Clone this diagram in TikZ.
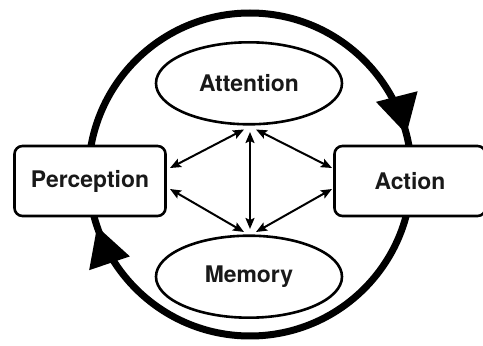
\documentclass[tikz,border=0pt]{standalone}
\usepackage{fontspec}
\setmainfont{TeX Gyre Heros}
\usetikzlibrary{arrows.meta,decorations.markings,shapes.geometric}

\tikzset{
  lbl/.style={font=\bfseries\fontsize{22.9}{27}\selectfont, text=black!90},
  stagebox/.style={lbl, draw, line width=2.6pt, rounded corners=8pt,
    minimum width=151pt, minimum height=70pt, inner sep=0pt},
  faculty/.style={lbl, draw, ellipse, line width=2.6pt,
    minimum width=186pt, minimum height=82pt, inner sep=0pt},
  link/.style={line width=2pt, {Stealth[length=11pt,width=9pt,inset=2pt]}-{Stealth[length=11pt,width=9pt,inset=2pt]}},
  cycle/.style={line width=7pt, postaction={decorate},
    decoration={markings,
      mark=at position 0.04 with {\arrowreversed{Triangle[length=39pt,width=41pt]}},
      mark=at position 0.552 with {\arrowreversed{Triangle[length=39pt,width=41pt]}}}}
}

\begin{document}
\begin{tikzpicture}[x=1pt,y=1pt]
  \useasboundingbox (0,0) rectangle (483,346);
  \fill[white] (0,0) rectangle (483,346);

  % outer perception-action loop
  \coordinate (hub) at (250,171.5);
  \draw[cycle] (hub) circle[radius=161.5pt];

  % stages on the loop
  \node[stagebox, fill=white] (perc) at (90,165) {Perception};
  \node[stagebox, fill=white] (act)  at (410,165) {Action};

  % central faculties
  \node[faculty] (att) at (249,262.7) {Attention};
  \node[faculty] (mem) at (249,69.3)  {Memory};

  % meeting points of the inner links
  \coordinate (aL) at (244,216.5);
  \coordinate (aC) at (250,214);
  \coordinate (aR) at (256,216.5);
  \coordinate (mL) at (244,114);
  \coordinate (mC) at (250,117);
  \coordinate (mR) at (256,114);
  \coordinate (pU) at (170,178);
  \coordinate (pD) at (170,157);
  \coordinate (cU) at (332,178);
  \coordinate (cD) at (332,157);

  \draw[link] (aL) -- (pU);
  \draw[link] (aR) -- (cU);
  \draw[link] (aC) -- (mC);
  \draw[link] (pD) -- (mL);
  \draw[link] (mR) -- (cD);
\end{tikzpicture}
\end{document}
